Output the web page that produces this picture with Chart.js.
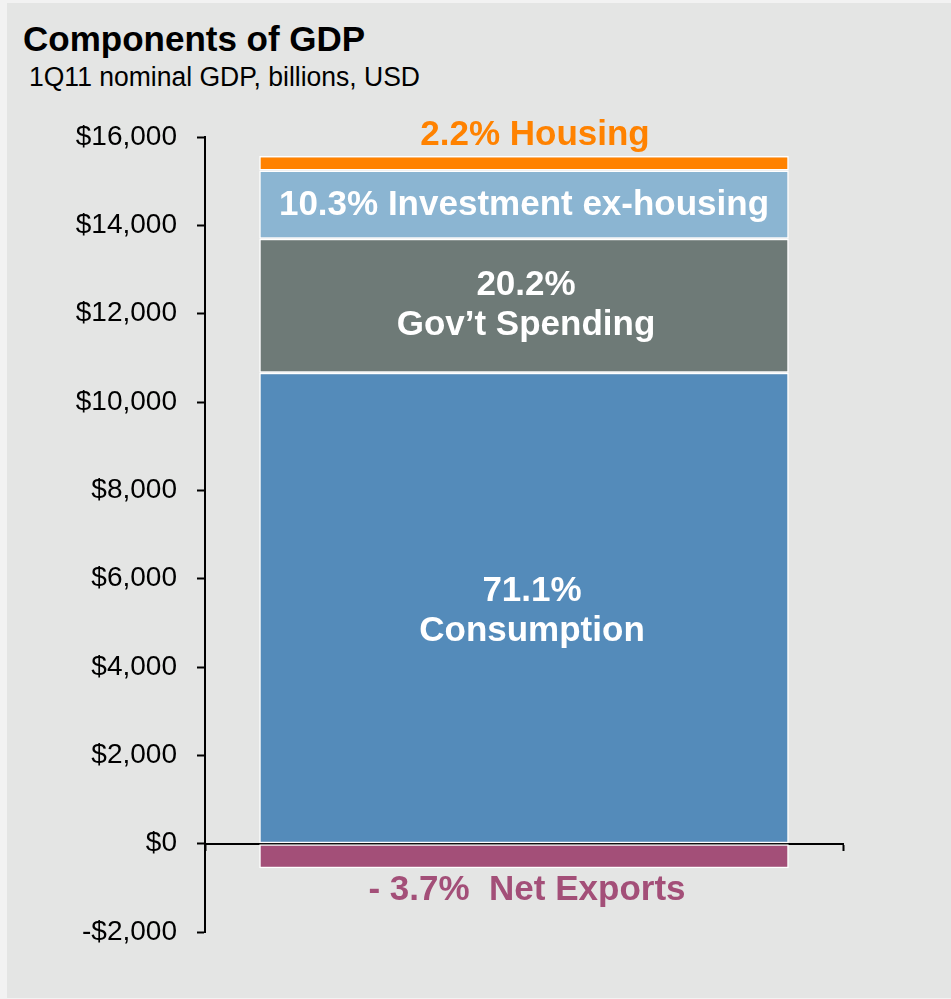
<!DOCTYPE html>
<html>
<head>
<meta charset="utf-8">
<script src="https://cdn.jsdelivr.net/npm/chart.js@4.4.1/dist/chart.umd.min.js"></script>
<style>
  html, body { margin: 0; padding: 0; background: #f2f2f2; }
  #wrap { position: relative; width: 951px; height: 999px; overflow: hidden; }
  #panel { position: absolute; left: 7px; top: 3px; width: 944px; height: 995px; background: #e4e5e4; }
  #title { position: absolute; left: 23px; top: 21px; font: bold 35px "Liberation Sans", Arial, sans-serif; line-height: 35px; color: #000; white-space: nowrap; }
  #subtitle { position: absolute; left: 29px; top: 64px; font: 27px "Liberation Sans", Arial, sans-serif; line-height: 27px; color: #000; white-space: nowrap; transform: scaleX(0.982); transform-origin: left top; }
  canvas { position: absolute; left: 0; top: 0; }
</style>
</head>
<body>
<div id="wrap">
  <div id="panel"></div>
  <div id="title">Components of GDP</div>
  <div id="subtitle">1Q11 nominal GDP, billions, USD</div>
  <canvas id="c" width="951" height="999"></canvas>
</div>
<script>
// ---- data ----
const categories = ['1Q11'];
const componentNames = ['Consumption', 'Gov\u2019t Spending', 'Investment ex-housing', 'Housing', 'Net Exports'];
const consumption = [10665];
const govSpending = [3030];
const investmentExHousing = [1545];
const housing = [330];
const netExports = [-555];
const sharePct = ['71.1%', '20.2%', '10.3%', '2.2%', '- 3.7%'];
const yTickValues = [-2000, 0, 2000, 4000, 6000, 8000, 10000, 12000, 14000, 16000];

const colors = ['#548bba', '#6e7a77', '#8bb5d2', '#ff8200', '#a34f78'];
const seriesValues = [consumption, govSpending, investmentExHousing, housing, netExports];

const FONT = '"Liberation Sans", Arial, sans-serif';
// small label nudges (px) to mimic the hand-placed text boxes
const labelDx = [8, 2, 0, 11, 3];
const labelDy = [3, 0, 1, 1, 0];

const labelPlugin = {
  id: 'segLabels',
  afterDatasetsDraw(chart) {
    const ctx = chart.ctx;
    ctx.save();
    ctx.textAlign = 'center';
    ctx.textBaseline = 'middle';
    ctx.font = 'bold 35px ' + FONT;
    chart.data.datasets.forEach((ds, i) => {
      const el = chart.getDatasetMeta(i).data[0];
      if (!el) return;
      const top = Math.min(el.y, el.base), bot = Math.max(el.y, el.base);
      const cx = el.x + labelDx[i], cy = (top + bot) / 2 + labelDy[i];
      const name = componentNames[i], pct = sharePct[i];
      if (i === 0 || i === 1) {
        ctx.fillStyle = '#ffffff';
        ctx.fillText(pct, cx, cy - 20);
        ctx.fillText(name, cx, cy + 20);
      } else if (i === 2) {
        ctx.fillStyle = '#ffffff';
        ctx.fillText(pct + ' ' + name, cx, cy);
      } else if (i === 3) {
        ctx.fillStyle = colors[3];
        ctx.fillText(pct + ' ' + name, cx, top - 22 + labelDy[i]);
      } else if (i === 4) {
        ctx.fillStyle = colors[4];
        ctx.fillText(pct + '  ' + name, cx, bot + 22 + labelDy[i]);
      }
    });
    ctx.restore();
  }
};

new Chart(document.getElementById('c'), {
  type: 'bar',
  data: {
    labels: categories,
    datasets: seriesValues.map((vals, i) => ({
      label: componentNames[i],
      data: vals,
      backgroundColor: colors[i],
      borderColor: '#ffffff',
      borderWidth: 1.5,
      borderSkipped: false,
      barPercentage: 0.83,
      categoryPercentage: 1.0
    }))
  },
  options: {
    responsive: false,
    animation: false,
    devicePixelRatio: 1,
    layout: { padding: { top: 137, bottom: 67, left: 0, right: 108 } },
    plugins: { legend: { display: false }, tooltip: { enabled: false }, title: { display: false } },
    scales: {
      x: {
        stacked: true,
        position: { y: 0 },
        z: 1,
        offset: true,
        ticks: { display: false },
        grid: { display: true, offset: true, drawOnChartArea: false, drawTicks: true, tickLength: 6, tickColor: '#000', tickWidth: 2 },
        border: { display: true, color: '#000', width: 2 }
      },
      y: {
        stacked: true,
        min: -2000,
        max: 16000,
        afterFit(scale) { scale.width = 205; },
        afterBuildTicks(scale) { scale.ticks = yTickValues.map(v => ({ value: v })); },
        ticks: {
          padding: 20,
          color: '#000',
          font: { family: FONT, size: 28 },
          callback: (v) => (v < 0 ? '-$' : '$') + Math.abs(v).toLocaleString('en-US')
        },
        grid: { display: true, drawOnChartArea: false, drawTicks: true, tickLength: 8, tickColor: '#000', tickWidth: 2 },
        border: { display: true, color: '#000', width: 2 }
      }
    }
  },
  plugins: [labelPlugin]
});
</script>
</body>
</html>
